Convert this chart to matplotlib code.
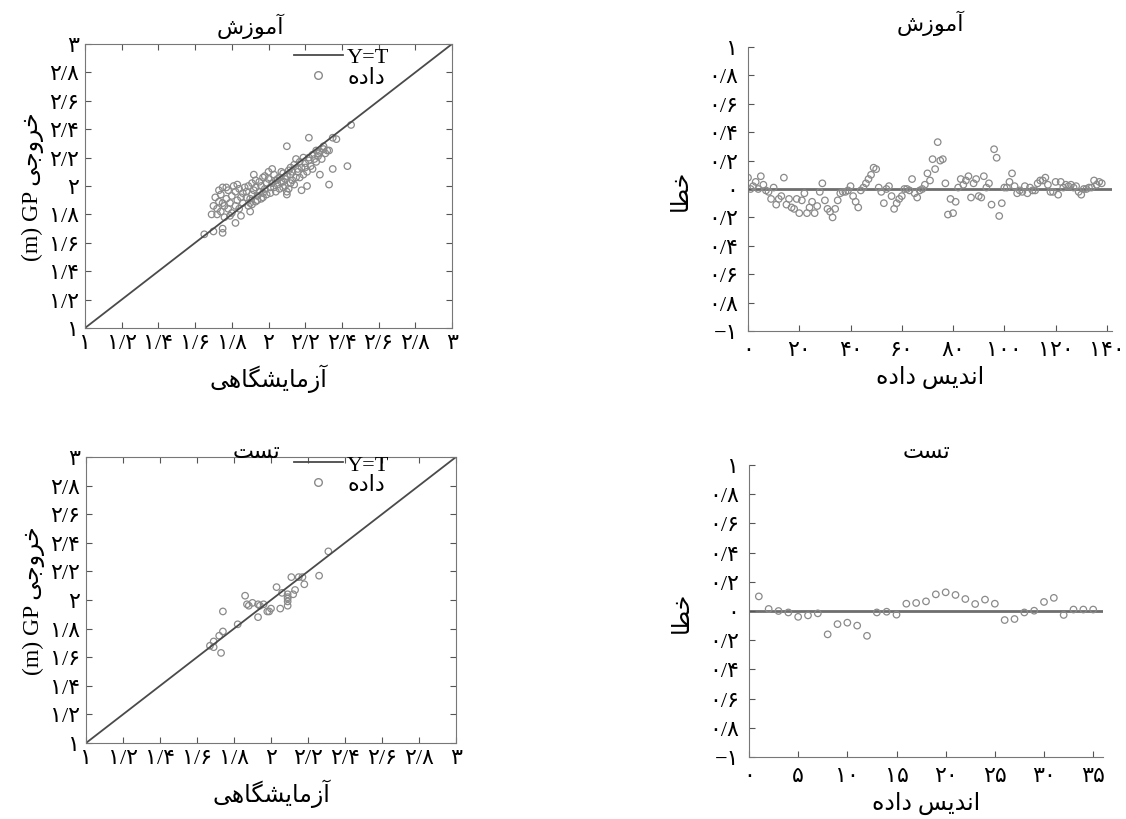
import numpy as np
import matplotlib
matplotlib.use('Agg')
import matplotlib.pyplot as plt
from matplotlib.lines import Line2D

plt.rcParams['font.family'] = ['Liberation Serif', 'DejaVu Sans']
plt.rcParams['axes.unicode_minus'] = True

# ========== data ==========
train_true = [2.45, 2.22, 2.10, 2.35, 2.37, 2.33, 2.43, 2.35, 2.28, 2.33,
              2.21, 2.18, 2.10, 1.65, 1.70, 1.75, 1.75, 1.82, 1.69, 1.90,
              2.24, 2.26, 2.28, 2.30, 2.31, 2.25, 2.27, 2.29, 2.22, 2.20,
              2.23, 2.19, 2.17, 2.15, 2.18, 2.16, 2.14, 2.21, 2.13, 2.12,
              2.19, 2.17, 2.24, 2.26, 2.11, 2.10, 2.09, 2.08, 2.07, 2.06,
              2.05, 2.04, 2.03, 2.02, 2.01, 2.00, 2.12, 2.13, 2.11, 2.09,
              2.06, 2.04, 2.07, 2.02, 2.00, 2.15, 2.14, 2.10, 2.08, 1.99,
              1.98, 1.97, 1.96, 1.95, 1.94, 1.93, 1.92, 1.91, 1.90, 1.89,
              1.88, 1.97, 1.95, 1.93, 1.91, 1.99, 1.96, 1.93, 1.91, 1.89,
              1.98, 1.92, 1.87, 1.86, 1.85, 1.84, 1.83, 1.82, 1.81, 1.80,
              1.79, 1.78, 1.77, 1.76, 1.75, 1.74, 1.73, 1.72, 1.71, 1.72,
              1.74, 1.76, 1.78, 1.80, 1.82, 1.84, 1.86, 1.88, 1.70, 1.73,
              1.77, 1.83, 1.79, 1.75, 1.85, 1.90, 1.94, 1.97, 2.01, 2.03,
              2.05, 2.08, 2.12, 2.16, 2.20, 2.22, 2.27, 2.30, 2.32]
train_pred = [2.43, 2.34, 2.28, 2.34, 2.33, 2.25, 2.14, 2.12, 2.08, 2.01,
              2.00, 1.97, 1.94, 1.66, 1.68, 1.67, 1.70, 1.74, 1.80, 1.82,
              2.22, 2.25, 2.24, 2.26, 2.23, 2.19, 2.21, 2.19, 2.18, 2.16,
              2.14, 2.20, 2.17, 2.19, 2.13, 2.12, 2.15, 2.10, 2.10, 2.13,
              2.08, 2.06, 2.12, 2.17, 2.11, 2.07, 2.05, 2.09, 2.03, 2.06,
              2.01, 2.04, 2.08, 2.02, 1.99, 2.05, 2.02, 2.04, 1.98, 2.00,
              1.98, 1.96, 2.10, 2.12, 2.10, 2.06, 2.01, 1.96, 1.99, 2.02,
              1.98, 1.95, 2.00, 1.96, 1.93, 1.99, 1.97, 1.94, 1.91, 2.00,
              1.96, 2.06, 2.03, 2.04, 2.02, 1.94, 1.91, 1.89, 1.87, 1.86,
              2.07, 2.08, 1.99, 1.95, 1.92, 1.98, 1.90, 1.96, 2.00, 1.93,
              1.88, 1.97, 1.91, 1.86, 1.99, 1.94, 1.89, 1.84, 1.92, 1.80,
              1.82, 1.78, 1.84, 1.81, 1.86, 1.84, 1.88, 1.92, 1.86, 1.97,
              1.99, 2.01, 1.79, 1.88, 1.79, 1.88, 1.90, 1.92, 1.95, 1.99,
              2.05, 2.03, 2.08, 2.10, 2.13, 2.20, 2.23, 2.28, 2.25]

test_true = [2.31, 2.26, 2.11, 2.15, 2.17, 2.18, 2.03, 2.13, 2.12, 2.06,
             2.09, 2.09, 2.09, 2.09, 2.05, 2.00, 1.98, 1.96, 1.93, 1.93,
             1.90, 1.87, 1.88, 1.86, 1.82, 1.74, 1.74, 1.72, 1.69, 1.67,
             1.69, 1.73, 1.94, 2.09, 1.99]
test_pred = [2.34, 2.17, 2.16, 2.16, 2.16, 2.11, 2.09, 2.07, 2.04, 2.05,
             2.04, 2.01, 1.99, 1.96, 1.94, 1.94, 1.92, 1.97, 1.97, 1.88,
             1.98, 1.97, 1.96, 2.03, 1.83, 1.92, 1.78, 1.75, 1.71, 1.68,
             1.67, 1.63, 1.96, 2.02, 1.92]

train_err = [0.08, 0, 0.02, 0.05, 0, 0.09, 0.03, -0.01, -0.02, -0.07,
             0.01, -0.11, -0.07, -0.05, 0.08, -0.11, -0.07, -0.13, -0.14, -0.07,
             -0.17, -0.08, -0.03, -0.17, -0.13, -0.09, -0.17, -0.12, -0.02, 0.04,
             -0.08, -0.14, -0.16, -0.2, -0.14, -0.08, -0.03, -0.02, -0.02, -0.01,
             0.02, -0.05, -0.09, -0.13, -0.01, 0.01, 0.04, 0.07, 0.1, 0.15,
             0.14, 0.01, -0.02, -0.1, 0, 0.02, -0.05, -0.14, -0.1, -0.07,
             -0.05, 0, 0, -0.01, 0.07, -0.03, -0.06, -0.01, 0, 0.03,
             0.11, 0.06, 0.21, 0.14, 0.33, 0.2, 0.21, 0.04, -0.18, -0.07,
             -0.17, -0.09, 0.01, 0.07, 0.03, 0.06, 0.09, -0.06, 0.04, 0.07,
             -0.05, -0.06, 0.09, 0.01, 0.04, -0.11, 0.28, 0.22, -0.19, -0.1,
             0.01, 0.01, 0.05, 0.11, 0.02, -0.03, -0.01, -0.02, 0.02, -0.03,
             0.01, -0.01, -0.01, 0.04, 0.06, 0.06, 0.08, 0.03, -0.02, -0.02,
             0.05, -0.04, 0.05, 0.01, 0.03, 0.02, 0.03, 0.01, 0.02, -0.02,
             -0.04, 0, 0, 0.01, 0.01, 0.06, 0.03, 0.05, 0.04]
test_err = [0.1, 0.014, 0, -0.01, -0.04, -0.03, -0.016, -0.16, -0.09, -0.08,
            -0.1, -0.17, -0.01, -0.005, -0.025, 0.05, 0.055, 0.066, 0.114, 0.128,
            0.11, 0.082, 0.048, 0.078, 0.05, -0.062, -0.055, -0.01, 0.002, 0.062,
            0.09, -0.027, 0.01, 0.01, 0.01]

scatter_ticks = [1, 1.2, 1.4, 1.6, 1.8, 2, 2.2, 2.4, 2.6, 2.8, 3]
err_yticks = [-1, -0.8, -0.6, -0.4, -0.2, 0, 0.2, 0.4, 0.6, 0.8, 1]
train_xticks = [0, 20, 40, 60, 80, 100, 120, 140]
test_xticks = [0, 5, 10, 15, 20, 25, 30, 35]

# ========== persian text helpers ==========
FORMS = {
    'ا': ('\uFE8D', '\uFE8E', None, None),
    'آ': ('\uFE81', '\uFE82', None, None),
    'د': ('\uFEA9', '\uFEAA', None, None),
    'ر': ('\uFEAD', '\uFEAE', None, None),
    'ز': ('\uFEAF', '\uFEB0', None, None),
    'و': ('\uFEED', '\uFEEE', None, None),
    'م': ('\uFEE1', '\uFEE2', '\uFEE3', '\uFEE4'),
    'ش': ('\uFEB5', '\uFEB6', '\uFEB7', '\uFEB8'),
    'ت': ('\uFE95', '\uFE96', '\uFE97', '\uFE98'),
    'س': ('\uFEB1', '\uFEB2', '\uFEB3', '\uFEB4'),
    'ی': ('\uFBFC', '\uFBFD', '\uFBFE', '\uFBFF'),
    'گ': ('\uFB92', '\uFB93', '\uFB94', '\uFB95'),
    'ه': ('\uFEE9', '\uFEEA', '\uFEEB', '\uFEEC'),
    'خ': ('\uFEA5', '\uFEA6', '\uFEA7', '\uFEA8'),
    'ج': ('\uFE9D', '\uFE9E', '\uFE9F', '\uFEA0'),
    'ط': ('\uFEC1', '\uFEC2', '\uFEC3', '\uFEC4'),
    'ن': ('\uFEE5', '\uFEE6', '\uFEE7', '\uFEE8'),
}


def fa(text):
    # shape letters and put them in visual (left-to-right) order
    out = []
    for i, ch in enumerate(text):
        if ch not in FORMS:
            out.append(ch)
            continue
        prev = text[i - 1] if i > 0 else ''
        nxt = text[i + 1] if i + 1 < len(text) else ''
        join_prev = prev in FORMS and FORMS[prev][2] is not None
        join_next = nxt in FORMS and FORMS[ch][2] is not None
        iso, fin, ini, med = FORMS[ch]
        if join_prev and join_next:
            out.append(med)
        elif join_prev:
            out.append(fin)
        elif join_next:
            out.append(ini)
        else:
            out.append(iso)
    return ''.join(reversed(out))


DIGITS = str.maketrans('0123456789.', '۰۱۲۳۴۵۶۷۸۹/')


def fa_num(v):
    s = ('%.1f' % v).rstrip('0').rstrip('.')
    return s.translate(DIGITS)


def err_label(v):
    # the source drops the minus sign except on -1
    if abs(v + 1) < 1e-9:
        return '−' + fa_num(1)
    return fa_num(abs(v))


FS = 15
TFS = 16
GRAY_MK = '#8a8a8a'

W, H = 1126, 820
fig = plt.figure(figsize=(W / 100, H / 100), dpi=100)


def px_axes(x0, y0, x1, y1):
    return fig.add_axes([x0 / W, 1 - y1 / H, (x1 - x0) / W, (y1 - y0) / H])


def scatter_panel(ax, t, p, title, title_x, title_pad, leg_anchor):
    ax.plot([1, 3], [1, 3], color='#4a4a4a', lw=1.3)
    ax.scatter(t, p, s=22, facecolors='none', edgecolors=GRAY_MK, linewidths=0.9)
    ax.set_xlim(1, 3)
    ax.set_ylim(1, 3)
    ax.set_xticks(scatter_ticks)
    ax.set_yticks(scatter_ticks)
    ax.set_xticklabels([fa_num(v) for v in scatter_ticks], fontsize=TFS)
    ax.set_yticklabels([fa_num(v) for v in scatter_ticks], fontsize=TFS)
    ax.tick_params(direction='in', top=True, right=True, length=4, color='#555555', pad=4)
    for s in ax.spines.values():
        s.set_color('#777777')
    ax.set_title(fa(title), fontsize=FS + 1, x=title_x, pad=title_pad)
    ax.set_xlabel(fa('آزمایشگاهی'), fontsize=FS + 2, labelpad=8)
    ax.set_ylabel('(m) GP ' + fa('خروجی'), fontsize=FS + 2, labelpad=4)
    handles = [Line2D([], [], color='#4a4a4a', lw=1.3),
               Line2D([], [], ls='none', marker='o', mfc='none', mec=GRAY_MK, ms=5.5)]
    ax.legend(handles, ['Y=T', fa('داده')], loc='upper right', bbox_to_anchor=leg_anchor,
              frameon=False, fontsize=FS + 1, handlelength=2.2, handletextpad=0.2,
              labelspacing=0.0, borderpad=0, borderaxespad=0)


def error_panel(ax, err, x, xticks, xmax, title, title_pad):
    ax.axhline(0, color='#6e6e6e', lw=2, zorder=1)
    ax.scatter(x, err, s=22, facecolors='none', edgecolors=GRAY_MK, linewidths=0.9, zorder=2)
    ax.set_xlim(0, xmax)
    ax.set_ylim(-1, 1)
    ax.set_xticks(xticks)
    ax.set_yticks(err_yticks)
    ax.set_xticklabels([fa_num(v) for v in xticks], fontsize=TFS)
    ax.set_yticklabels([err_label(v) for v in err_yticks], fontsize=TFS)
    ax.tick_params(direction='in', length=4, color='#555555', pad=7)
    ax.spines['top'].set_visible(False)
    ax.spines['right'].set_visible(False)
    for s in ('left', 'bottom'):
        ax.spines[s].set_color('#777777')
    ax.set_title(fa(title), fontsize=FS + 1, pad=title_pad)
    ax.set_xlabel(fa('اندیس داده'), fontsize=FS + 2, labelpad=4)
    ax.set_ylabel(fa('خطا'), fontsize=FS + 2, labelpad=12)


# ========== panels ==========
ax1 = px_axes(85, 45, 452, 329)
scatter_panel(ax1, train_true, train_pred, 'آموزش', 0.45, 8, (0.83, 0.99))

ax3 = px_axes(86, 458, 456, 744)
scatter_panel(ax3, test_true, test_pred, 'تست', 0.46, 0, (0.82, 1.01))

ax2 = px_axes(748, 48, 1112, 332)
error_panel(ax2, train_err, np.arange(len(train_err)), train_xticks, 142, 'آموزش', 12)

ax4 = px_axes(749, 466, 1103, 758)
error_panel(ax4, test_err, np.arange(1, len(test_err) + 1), test_xticks, 36, 'تست', 6)

plt.savefig('out.png', dpi=100)
